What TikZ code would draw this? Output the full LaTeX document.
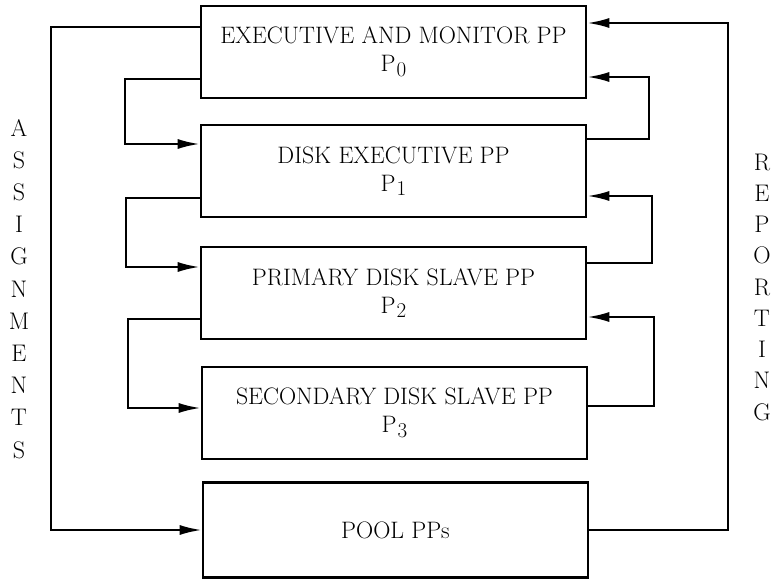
\documentclass[tikz,border=0pt]{standalone}
\usetikzlibrary{arrows.meta,calc}
\newcommand{\ppsub}[1]{P\kern1pt\raisebox{-0.45ex}{\fontsize{21}{21}\selectfont #1}}
\begin{document}
\begin{tikzpicture}[x=1pt,y=-1pt,
  ppbox/.style={draw, line width=2.6pt, minimum width=385pt, minimum height=92pt,
    align=center, inner sep=0pt, font=\fontsize{23.8}{28}\selectfont},
  conn/.style={line width=2.3pt, line join=miter},
  arr/.style={conn, -{Latex[length=22pt,width=10pt]}},
  vlet/.style={font=\fontsize{24}{26}\selectfont, inner sep=0pt}]
\useasboundingbox (0,0) rectangle (772,580);
\node[ppbox] (b0) at (393.5,52) {EXECUTIVE AND MONITOR PP\\\ppsub{0}};
\node[ppbox] (b1) at (393.5,171) {DISK EXECUTIVE PP\\\ppsub{1}};
\node[ppbox] (b2) at (393.5,293) {PRIMARY DISK SLAVE PP\\\ppsub{2}};
\node[ppbox] (b3) at (394.5,413) {SECONDARY DISK SLAVE PP\\\ppsub{3}};
\node[ppbox, minimum height=95pt] (b4) at (395.5,530) {POOL PPs};
% left side: assignments
\draw[arr] ($(b0.west)+(0,-25)$) -- (51,27) -- (51,530) -- (b4.west);
\draw[arr] ($(b0.west)+(0,27)$) -| (125,100) |- ($(b1.west)+(0,-27)$);
\draw[arr] ($(b1.west)+(0,27)$) -| (126,230) |- ($(b2.west)+(0,-26)$);
\draw[arr] ($(b2.west)+(0,26)$) -| (128,360) |- ($(b3.west)+(0,-5)$);
% right side: reporting
\draw[arr] (b4.east) -| (728,300) |- ($(b0.east)+(0,-29)$);
\draw[arr] ($(b1.east)+(0,-32)$) -| (649,100) |- ($(b0.east)+(0,25)$);
\draw[arr] ($(b2.east)+(0,-30)$) -| (652,230) |- ($(b1.east)+(0,25)$);
\draw[arr] ($(b3.east)+(0,-7)$) -| (654,360) |- ($(b2.east)+(0,24)$);
% vertical words
\foreach \l [count=\i from 0] in {A,S,S,I,G,N,M,E,N,T,S}
  \node[vlet] (a\i) at (19,128+32.2*\i) {\l};
\foreach \l [count=\i from 0] in {R,E,P,O,R,T,I,N,G}
  \node[vlet] (r\i) at (762,162+31.25*\i) {\l};
\end{tikzpicture}
\end{document}
